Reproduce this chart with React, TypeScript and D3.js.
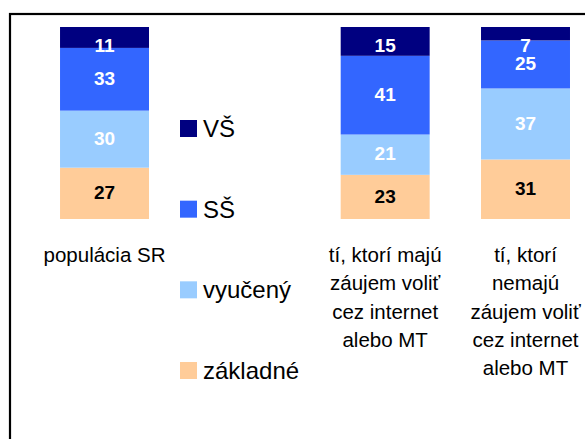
import React from "react";
import * as d3 from "d3";

const categories = ["populácia SR", "", "tí, ktorí majú", "tí, ktorí nemajú"];
const categoryLines: string[][] = [
  ["populácia SR"],
  [],
  ["tí, ktorí majú", "záujem voliť", "cez internet", "alebo MT"],
  ["tí, ktorí", "nemajú", "záujem voliť", "cez internet", "alebo MT"],
];
const seriesNames = ["základné", "vyučený", "SŠ", "VŠ"];
const zakladne = [27, 0, 23, 31];
const vyuceny = [30, 0, 21, 37];
const ss = [33, 0, 41, 25];
const vs = [11, 0, 15, 7];
const colors = ["#FFCC99", "#99CCFF", "#3366FF", "#000080"];
const labelColors = ["#000000", "#FFFFFF", "#FFFFFF", "#FFFFFF"];

const W = 585;
const H = 439;

export default function App() {
  const series = [zakladne, vyuceny, ss, vs];
  const x = d3
    .scaleBand<string>()
    .domain(categories)
    .range([34.35, 34.35 + 4 * 140.33])
    .paddingInner(0.366)
    .paddingOuter(0.183);
  const y = d3.scaleLinear().domain([0, 100]).range([219, 27]);

  const rows = categories.map((c, i) => {
    const obj: any = { cat: c };
    seriesNames.forEach((s, k) => (obj[s] = series[k][i]));
    const total = series.reduce((a, arr) => a + arr[i], 0);
    obj.total = total;
    return obj;
  });
  const normRows = rows.map((r) => {
    const o: any = { cat: r.cat };
    seriesNames.forEach((s) => (o[s] = r.total ? (r[s] / r.total) * 100 : 0));
    return o;
  });
  const stack = d3.stack<any>().keys(seriesNames);
  const stacked = stack(normRows);

  const legendY = d3.scaleLinear().domain([0, 3]).range([137, 379]);
  const legendOrder = [3, 2, 1, 0];

  return (
    <svg
      width={W}
      height={H}
      style={{ position: "absolute", left: 0, top: 0, background: "#fff" }}
      fontFamily="'Liberation Sans', Arial, sans-serif"
    >
      <rect x={0} y={0} width={W} height={H} fill="#fff" />
      <rect x={10} y={14} width={700} height={600} fill="none" stroke="#000" strokeWidth={2.2} />
      {stacked.map((layer, k) => (
        <g key={layer.key}>
          {layer.map((d, i) => {
            const raw = series[k][i];
            if (!raw) return null;
            const x0 = x(categories[i])!;
            const y0 = y(d[1]);
            const y1 = y(d[0]);
            let mid = (y0 + y1) / 2 - 1;
            if (mid < 45.5) mid = 45.5;
            return (
              <g key={i}>
                <rect x={x0} y={y0} width={x.bandwidth()} height={y1 - y0} fill={colors[k]} />
                <text
                  x={x0 + x.bandwidth() / 2}
                  y={mid + 6.8}
                  textAnchor="middle"
                  fontWeight="bold"
                  fontSize={19}
                  fill={labelColors[k]}
                >
                  {raw}
                </text>
              </g>
            );
          })}
        </g>
      ))}
      {categoryLines.map((lines, i) => (
        <text key={i} textAnchor="middle" fontSize={20.5} fill="#000">
          {lines.map((ln, j) => (
            <tspan key={j} x={x(categories[i])! + x.bandwidth() / 2} y={262 + j * 28.3}>
              {ln}
            </tspan>
          ))}
        </text>
      ))}
      {legendOrder.map((k, idx) => {
        const by = legendY(idx);
        return (
          <g key={k}>
            <rect x={180} y={by - 17} width={17} height={17} fill={colors[k]} />
            <text x={203} y={by} fontSize={24} fill="#000">
              {seriesNames[k]}
            </text>
          </g>
        );
      })}
    </svg>
  );
}
